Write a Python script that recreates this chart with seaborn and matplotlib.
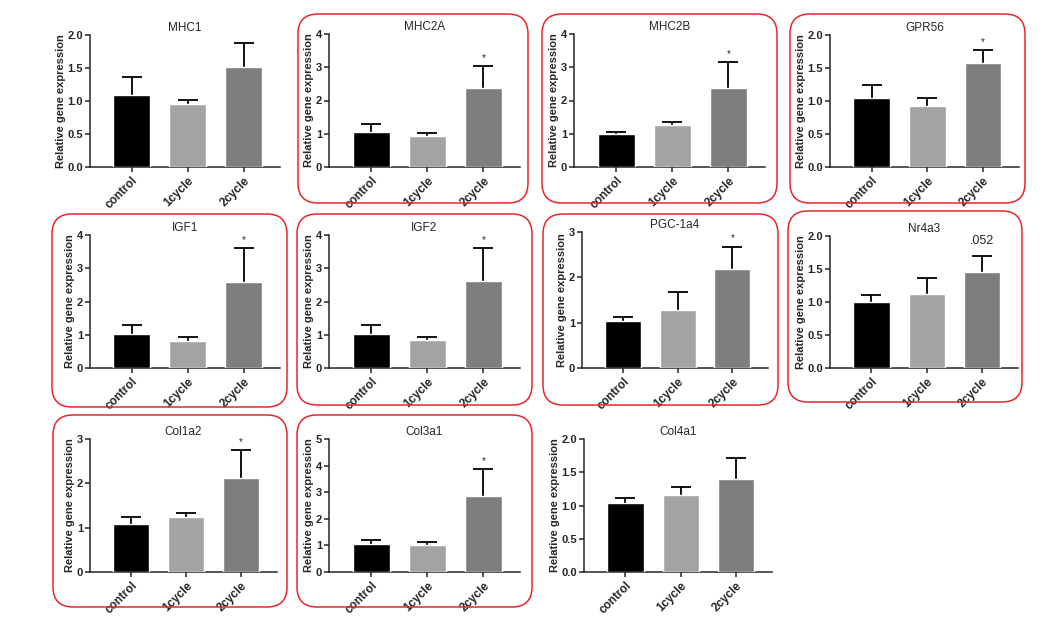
import numpy as np
import pandas as pd
import seaborn as sns
import matplotlib
matplotlib.use("Agg")
import matplotlib.pyplot as plt
from matplotlib.patches import FancyBboxPatch

genes = ["MHC1", "MHC2A", "MHC2B", "GPR56", "IGF1", "IGF2",
         "PGC-1a4", "Nr4a3", "Col1a2", "Col3a1", "Col4a1"]
groups = ["control", "1cycle", "2cycle"]

control_mean = [1.09, 1.06, 0.98, 1.05, 1.03, 1.03, 1.03, 1.00, 1.09, 1.04, 1.04]
control_sem = [0.28, 0.22, 0.06, 0.19, 0.26, 0.26, 0.10, 0.10, 0.15, 0.15, 0.07]
cycle1_mean = [0.95, 0.93, 1.25, 0.93, 0.82, 0.83, 1.29, 1.12, 1.25, 1.01, 1.16]
cycle1_sem = [0.06, 0.10, 0.10, 0.11, 0.10, 0.10, 0.39, 0.24, 0.09, 0.10, 0.12]
cycle2_mean = [1.52, 2.39, 2.38, 1.58, 2.60, 2.62, 2.19, 1.46, 2.11, 2.87, 1.40]
cycle2_sem = [0.36, 0.65, 0.79, 0.19, 1.02, 1.00, 0.49, 0.23, 0.65, 0.99, 0.32]

ymax = [2, 4, 4, 2, 4, 4, 3, 2, 3, 5, 2]
ystep = [0.5, 1, 1, 0.5, 1, 1, 1, 0.5, 1, 1, 0.5]
marks = ["", "*", "*", "*", "*", "*", "*", ".052", "*", "*", ""]
boxed = [False, True, True, True, True, True, True, True, True, True, False]

bar_colors = ["#000000", "#a2a2a6", "#7e7e7e"]

# axes rectangles in pixels: left, top, right, bottom
axes_px = [
    (90, 35, 280, 167), (329, 34, 520, 167), (574, 34, 765, 167), (830, 35, 1019, 167),
    (90, 235, 280, 368), (329, 235, 520, 368), (582, 232, 768, 368), (830, 236, 1018, 368),
    (90, 439, 277, 572), (329, 439, 520, 572), (584, 439, 772, 572),
]
box_px = [
    None, (298, 14, 528, 203), (542, 14, 777, 203), (790, 14, 1025, 203),
    (52, 214, 287, 407), (297, 214, 532, 405), (543, 214, 778, 405), (788, 211, 1022, 402),
    (53, 415, 287, 607), (297, 415, 532, 607), None,
]

sns.set_style("ticks")
plt.rcParams["font.family"] = ["Liberation Sans", "DejaVu Sans"]

W, H = 1052, 633
fig = plt.figure(figsize=(W / 100, H / 100), dpi=100)

for i, gene in enumerate(genes):
    l, t, r, b = axes_px[i]
    ax = fig.add_axes([l / W, 1 - b / H, (r - l) / W, (b - t) / H])
    means = [control_mean[i], cycle1_mean[i], cycle2_mean[i]]
    sems = [control_sem[i], cycle1_sem[i], cycle2_sem[i]]
    df = pd.DataFrame({"group": groups, "value": means})
    sns.barplot(data=df, x="group", y="value", hue="group", palette=bar_colors,
                width=0.66, errorbar=None, legend=False, ax=ax, zorder=3)
    # symmetric bars drawn behind the columns, so only the upper half shows
    ax.errorbar(range(3), means, yerr=sems, fmt="none",
                ecolor="black", elinewidth=1.3, capsize=7, capthick=1.3, zorder=1)
    ax.set_xlim(-0.75, 2.65)
    ax.set_ylim(0, ymax[i])
    ax.set_yticks(np.arange(0, ymax[i] + ystep[i] / 2, ystep[i]))
    if ystep[i] < 1:
        ax.set_yticklabels([f"{v:.1f}" for v in ax.get_yticks()])
    else:
        ax.set_yticklabels([f"{int(v)}" for v in ax.get_yticks()])
    ax.set_xlabel("")
    ax.set_ylabel("Relative gene expression", fontsize=8, fontweight="bold", labelpad=1)
    ax.set_title(gene, fontsize=8.5, pad=3)
    ax.tick_params(axis="y", labelsize=8, length=3.5, width=1.1, pad=1.5)
    ax.tick_params(axis="x", labelsize=8.5, length=3.5, width=1.1, pad=2)
    for lab in ax.get_xticklabels():
        lab.set_rotation(45)
        lab.set_ha("right")
        lab.set_rotation_mode("anchor")
        lab.set_fontweight("bold")
    for lab in ax.get_yticklabels():
        lab.set_fontweight("bold")
    for s in ["top", "right"]:
        ax.spines[s].set_visible(False)
    for s in ["left", "bottom"]:
        ax.spines[s].set_linewidth(1.1)
    if marks[i]:
        top = means[2] + sems[2]
        if marks[i] == "*":
            ax.text(2, top + ymax[i] * 0.06, "*", ha="center", va="center", fontsize=7)
        else:
            ax.text(2, top + ymax[i] * 0.12, marks[i], ha="center", va="center", fontsize=9)

    if boxed[i]:
        bl, bt, br, bb = box_px[i]
        patch = FancyBboxPatch((bl / 100, (H - bb) / 100), (br - bl) / 100, (bb - bt) / 100,
                               boxstyle="round,pad=0,rounding_size=0.2",
                               transform=fig.dpi_scale_trans, fill=False,
                               edgecolor="#e8262a", linewidth=1.1)
        fig.add_artist(patch)

fig.savefig("out.png", dpi=100)
